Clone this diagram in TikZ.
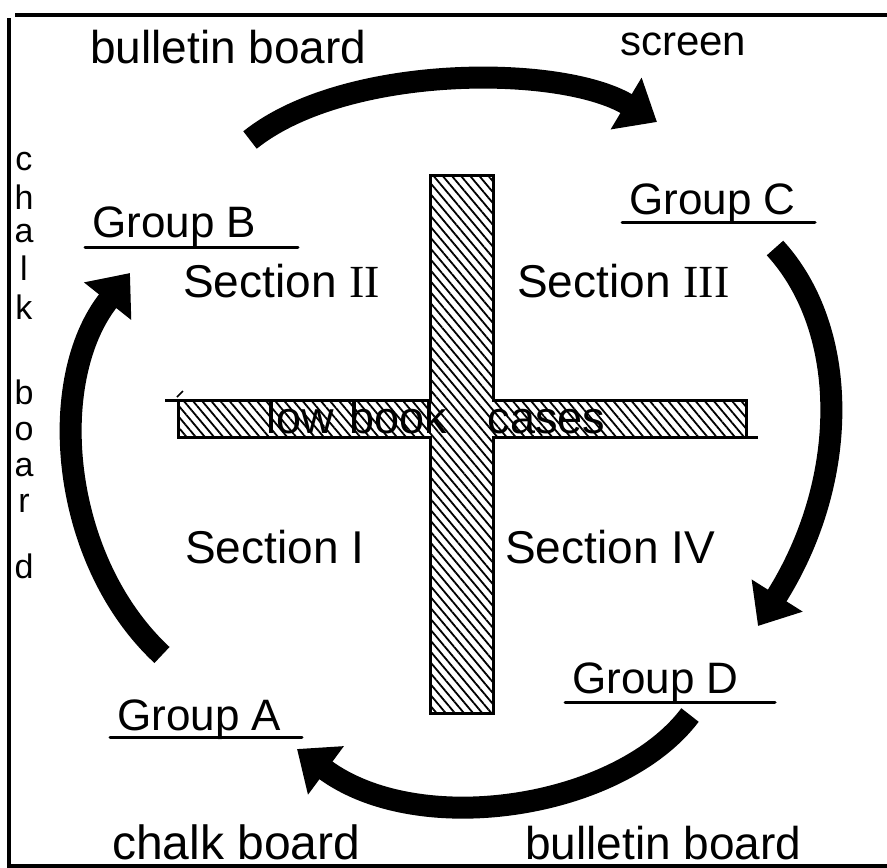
\documentclass[tikz,border=0pt]{standalone}
\usepackage{fontspec}
\setmainfont{Liberation Sans}
\newfontfamily\numfont{Liberation Serif}
\usetikzlibrary{arrows.meta,patterns.meta}
\begin{document}
\begin{tikzpicture}[x=1pt,y=-1pt,
  lbl/.style={inner sep=0pt, anchor=base west},
  big/.style={font=\fontsize{46}{50}\selectfont},
  grp/.style={lbl, font=\fontsize{44}{48}\selectfont},
  sect/.style={lbl, font=\fontsize{46}{50}\selectfont},
  vlet/.style={inner sep=0pt, anchor=base, font=\fontsize{34}{36}\selectfont},
  uline/.style={line width=3pt, line cap=round},
  frame/.style={line width=4pt},
  outline/.style={line width=3pt, line join=miter},
  flow/.style={line width=22pt, -{Triangle[length=36pt,width=58pt]}},
  hatch/.style={pattern={Lines[angle=-50,distance=7pt,line width=1.8pt]}}
]
\useasboundingbox (0,0) rectangle (887,868);
\fill[white] (0,0) rectangle (887,868);

% frame
\draw[frame] (887,15) -- (15,15);
\draw[frame] (9,18) -- (9,866) -- (887,866);

% cross of low book cases
\fill[hatch] (430,175) -- (493,175) -- (493,400) -- (746,400) -- (746,437) -- (493,437)
  -- (493,713) -- (430,713) -- (430,437) -- (178,437) -- (178,400) -- (430,400) -- cycle;
\draw[outline] (430,175) -- (493,175) -- (493,400) -- (746,400) -- (746,437) -- (493,437)
  -- (493,713) -- (430,713) -- (430,437) -- (178,437) -- (178,400) -- (430,400) -- cycle;
\draw[outline] (165,400) -- (178,400);
\draw[outline] (746,437) -- (758,437);
\draw[line width=1.5pt] (177,397) -- (183,391);
\node[inner sep=0pt, anchor=base, font=\fontsize{45}{48}\selectfont] (cases) at (436,433) {low\hspace{0.35em}book\hspace{0.9em}cases};

% top texts
\node[lbl, big] (bbtop) at (90,63) {bulletin board};
\node[lbl, font=\fontsize{42}{46}\selectfont] (screen) at (620,55) {screen};

% bottom texts
\node[lbl, font=\fontsize{48}{52}\selectfont] (cbbot) at (112,859) {chalk board};
\node[lbl, big] (bbbot) at (525,859) {bulletin board};

% left vertical text: chalk board
\node[vlet] (v1) at (24,170) {c};
\node[vlet] (v2) at (24,209) {h};
\node[vlet] (v3) at (24,242) {a};
\node[vlet] (v4) at (24,280) {l};
\node[vlet] (v5) at (24,319) {k};
\node[vlet] (v6) at (24,404) {b};
\node[vlet] (v7) at (24,440) {o};
\node[vlet] (v8) at (24,476) {a};
\node[vlet] (v9) at (24,512) {r};
\node[vlet] (v10) at (24,578) {d};

% groups
\node[grp] (gB) at (92,237) {Group B};
\draw[uline] (85,247) -- (298,247);
\node[grp] (gC) at (629,214) {Group C};
\draw[uline] (622,222) -- (815,222);
\node[grp] (gA) at (117,730) {Group A};
\draw[uline] (110,737) -- (302,737);
\node[grp] (gD) at (572,693) {Group D};
\draw[uline] (565,702) -- (775,702);

% sections
\node[sect] (s2) at (183,297) {Section {\numfont II}};
\node[sect] (s3) at (517,297) {Section {\numfont III}};
\node[sect] (s1) at (185,563) {Section I};
\node[sect] (s4) at (505,563) {Section IV};

% flow arrows
\coordinate (a1s) at (250,140); \coordinate (a1e) at (657,122);
\coordinate (a2s) at (775,248); \coordinate (a2e) at (758,626);
\coordinate (a3s) at (690,715); \coordinate (a3e) at (297,749);
\coordinate (a4s) at (162,655); \coordinate (a4e) at (130,273);
\draw[flow] (a1s) .. controls (345,64) and (560,64) .. (a1e);
\draw[flow] (a2s) .. controls (850,330) and (850,480) .. (a2e);
\draw[flow] (a3s) .. controls (620,808) and (420,840) .. (a3e);
\draw[flow] (a4s) .. controls (60,560) and (45,380) .. (a4e);
\end{tikzpicture}
\end{document}
